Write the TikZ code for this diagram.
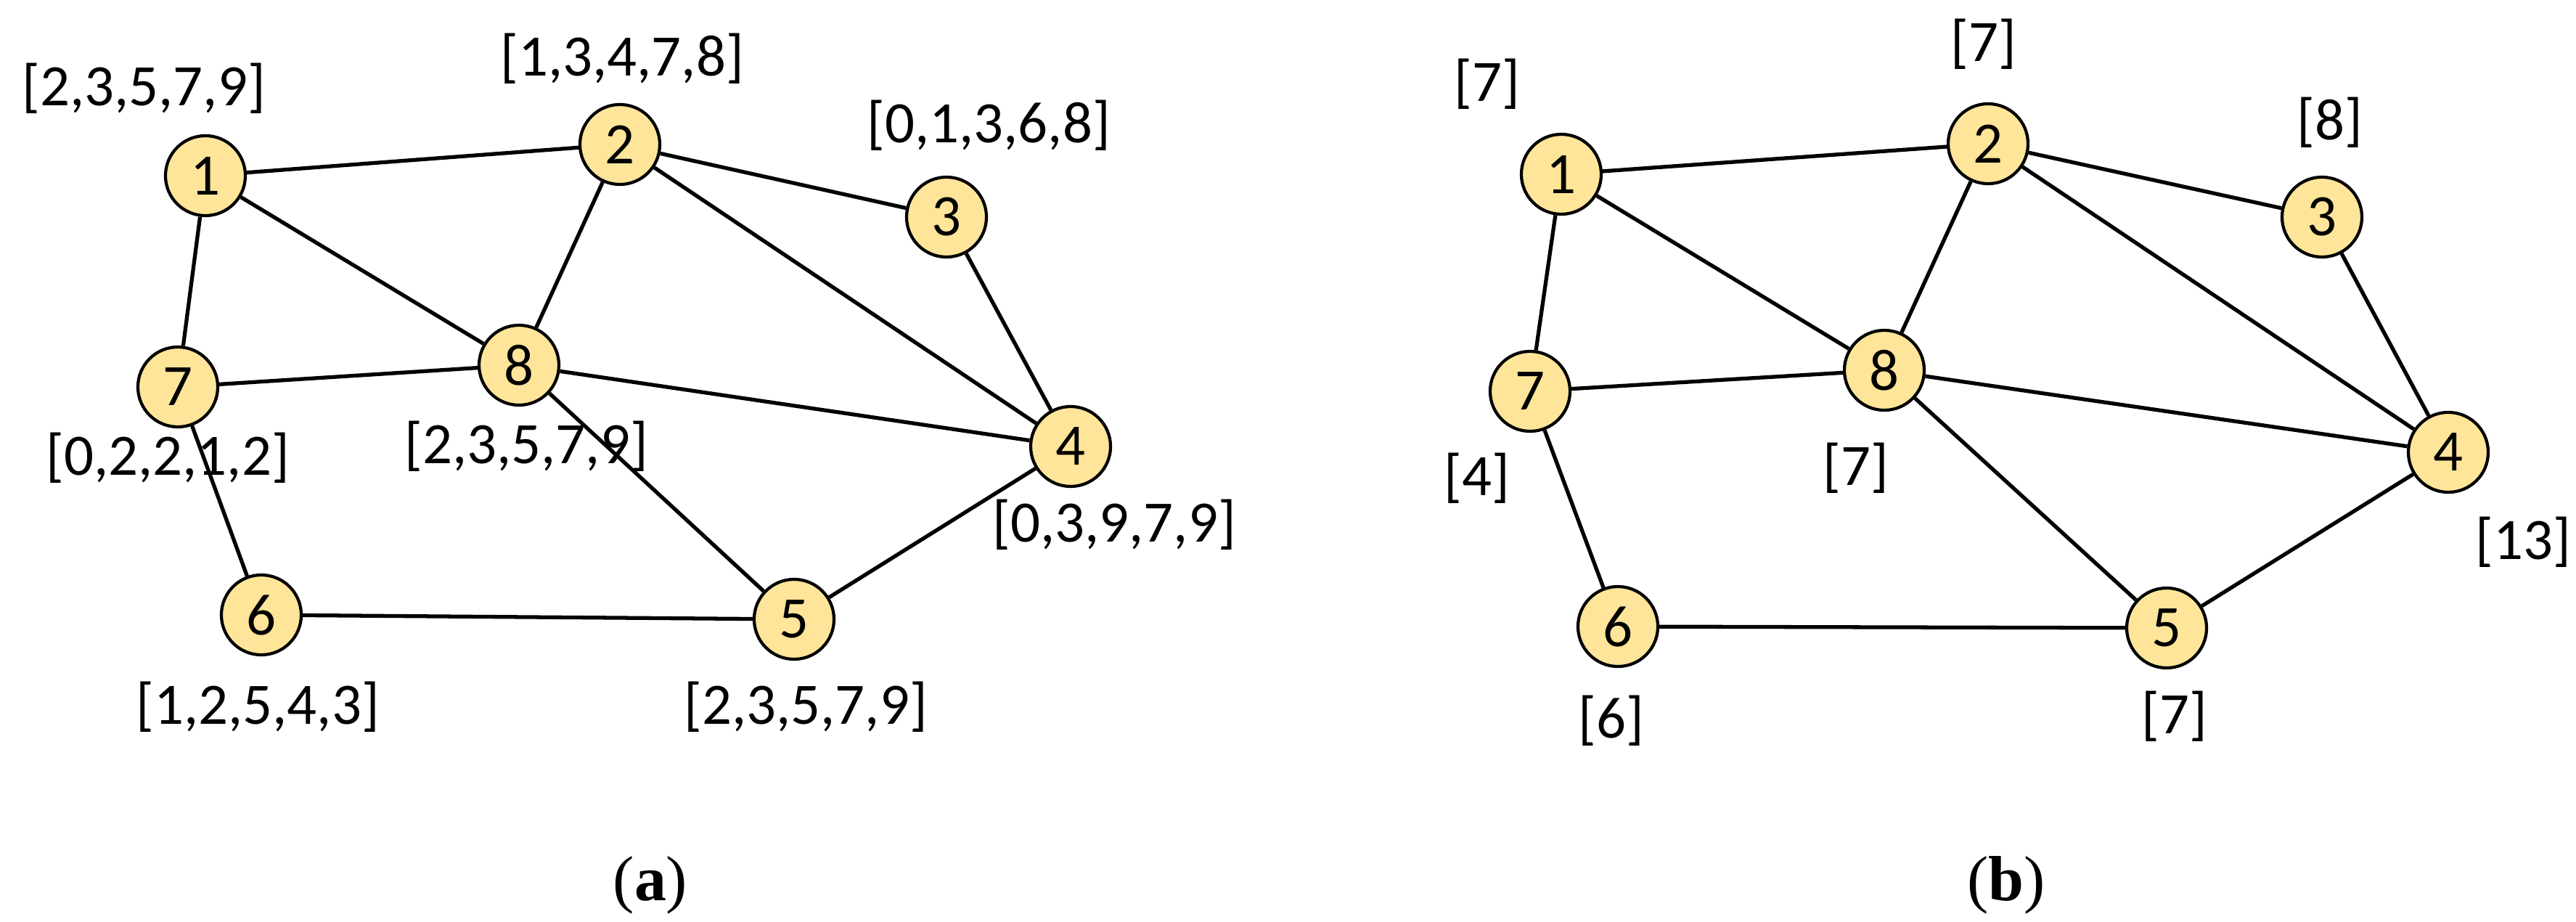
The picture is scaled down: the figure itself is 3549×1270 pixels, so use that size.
\documentclass[tikz,border=0pt]{standalone}
\usepackage{fontspec}
\setmainfont{Carlito}
\newfontfamily\capfont{Liberation Serif}
\definecolor{nodefill}{RGB}{255,229,153}
\begin{document}
\begin{tikzpicture}[x=0.01cm,y=-0.01cm,
  vtx/.style={circle,draw=black,line width=1.2pt,fill=nodefill,minimum size=1.1cm,inner sep=0pt,font=\fontsize{23}{23}\selectfont},
  lbl/.style={font=\fontsize{23}{23}\selectfont,inner sep=0pt},
  edge/.style={line width=1.5pt},
  captext/.style={font=\capfont\fontsize{25}{25}\selectfont,inner sep=0pt}]
\useasboundingbox (0,0) rectangle (3549,1270);
% panel a
\node[vtx] (a1) at (283,242) {1};
\node[vtx] (a2) at (854,199) {2};
\node[vtx] (a3) at (1304,299) {3};
\node[vtx] (a7) at (245,533) {7};
\node[vtx] (a8) at (715,503) {8};
\node[vtx] (a4) at (1475,615) {4};
\node[vtx] (a6) at (360,847) {6};
\node[vtx] (a5) at (1094,853) {5};
\draw[edge] (a1)--(a2) (a2)--(a3) (a1)--(a8) (a1)--(a7) (a2)--(a8) (a2)--(a4) (a3)--(a4)
 (a7)--(a8) (a8)--(a4) (a8)--(a5) (a7)--(a6) (a6)--(a5) (a5)--(a4);
\node[lbl] (la1) at (198,122) {[2,3,5,7,9]};
\node[lbl] (la2) at (857,81) {[1,3,4,7,8]};
\node[lbl] (la3) at (1362,173) {[0,1,3,6,8]};
\node[lbl] (la7) at (231,631) {[0,2,2,1,2]};
\node[lbl] (la8) at (725,615) {[2,3,5,7,9]};
\node[lbl] (la4) at (1535,723) {[0,3,9,7,9]};
\node[lbl] (la6) at (355,974) {[1,2,5,4,3]};
\node[lbl] (la5) at (1110,974) {[2,3,5,7,9]};
\node[captext] (capa) at (896,1219) {(\textbf{a})};
% panel b
\node[vtx] (b1) at (2151,240) {1};
\node[vtx] (b2) at (2739,198) {2};
\node[vtx] (b3) at (3199,299) {3};
\node[vtx] (b7) at (2108,539) {7};
\node[vtx] (b8) at (2596,510) {8};
\node[vtx] (b4) at (3373,623) {4};
\node[vtx] (b6) at (2229,863) {6};
\node[vtx] (b5) at (2985,865) {5};
\draw[edge] (b1)--(b2) (b2)--(b3) (b1)--(b8) (b1)--(b7) (b2)--(b8) (b2)--(b4) (b3)--(b4)
 (b7)--(b8) (b8)--(b4) (b8)--(b5) (b7)--(b6) (b6)--(b5) (b5)--(b4);
\node[lbl] (lb1) at (2049,116) {[7]};
\node[lbl] (lb2) at (2733,61) {[7]};
\node[lbl] (lb3) at (3210,169) {[8]};
\node[lbl] (lb7) at (2035,659) {[4]};
\node[lbl] (lb8) at (2557,645) {[7]};
\node[lbl] (lb4) at (3476,747) {[13]};
\node[lbl] (lb6) at (2220,993) {[6]};
\node[lbl] (lb5) at (2996,987) {[7]};
\node[captext] (capb) at (2764,1219) {(\textbf{b})};
\end{tikzpicture}
\end{document}
